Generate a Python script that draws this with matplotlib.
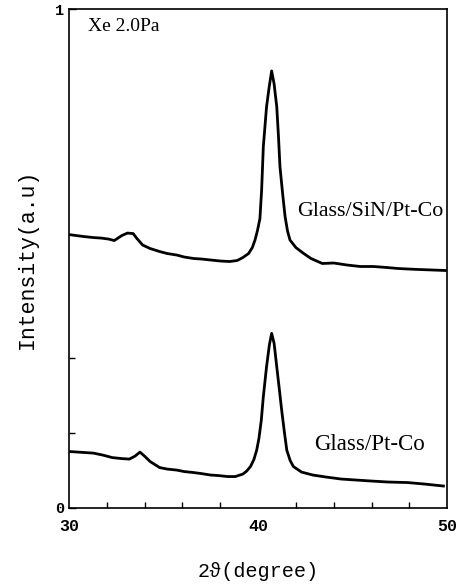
import numpy as np
import matplotlib
matplotlib.use('Agg')
import matplotlib.pyplot as plt
from matplotlib.ticker import MultipleLocator, FixedLocator

# XRD scans, Xe 2.0Pa (normalised intensity)
two_theta_sin = [30.0, 30.4, 30.8, 31.3, 31.7, 32.1, 32.4, 32.6, 32.8, 33.1, 33.4, 33.6, 33.9,
                 34.3, 34.8, 35.2, 35.7, 36.1, 36.6, 37.0, 37.5, 38.0, 38.5, 38.9, 39.2,
                 39.5, 39.7, 39.84, 39.97, 40.1, 40.19, 40.28, 40.45, 40.59, 40.72, 40.85,
                 40.99, 41.08, 41.16, 41.3, 41.43, 41.56, 41.69, 42.0, 42.38, 42.8, 43.4,
                 44.0, 44.7, 45.4, 46.1, 46.8, 47.4, 47.9, 48.5, 49.2, 49.9]
int_sin = [0.548, 0.546, 0.544, 0.542, 0.541, 0.539, 0.536, 0.541, 0.546, 0.551, 0.550, 0.540,
           0.527, 0.520, 0.514, 0.510, 0.507, 0.503, 0.500, 0.499, 0.497, 0.495, 0.494, 0.496,
           0.502, 0.510, 0.522, 0.537, 0.556, 0.580, 0.637, 0.724, 0.804, 0.844, 0.876, 0.850,
           0.804, 0.745, 0.684, 0.630, 0.584, 0.555, 0.537, 0.522, 0.511, 0.500, 0.490,
           0.491, 0.487, 0.484, 0.484, 0.482, 0.480, 0.479, 0.478, 0.477, 0.476]

two_theta_pt = [30.1, 30.5, 30.9, 31.3, 31.8, 32.3, 32.8, 33.2, 33.5, 33.76, 34.0, 34.3, 34.8,
                35.2, 35.7, 36.1, 36.6, 37.0, 37.5, 37.9, 38.4, 38.8, 39.2, 39.4, 39.6, 39.78,
                39.93, 40.05, 40.17, 40.28, 40.45, 40.6, 40.72, 40.85, 40.99, 41.12, 41.25,
                41.4, 41.52, 41.7, 41.87, 42.3, 42.9, 43.6, 44.4, 45.2, 46.0, 46.9, 47.9,
                48.8, 49.8]
int_pt = [0.113, 0.112, 0.111, 0.110, 0.106, 0.101, 0.099, 0.098, 0.104, 0.112, 0.104, 0.093,
          0.081, 0.078, 0.076, 0.073, 0.071, 0.069, 0.066, 0.065, 0.063, 0.063, 0.068, 0.074,
          0.083, 0.097, 0.116, 0.140, 0.175, 0.223, 0.283, 0.327, 0.350, 0.330, 0.283,
          0.240, 0.196, 0.150, 0.116, 0.095, 0.083, 0.072, 0.066, 0.062, 0.058, 0.056,
          0.054, 0.052, 0.051, 0.048, 0.044]

mono = ['Liberation Mono', 'DejaVu Sans Mono']
serif = ['Liberation Serif', 'DejaVu Serif']

fig = plt.figure(figsize=(4.62, 5.87), dpi=100)
ax = fig.add_axes([0.149, 0.1346, 0.819, 0.850])

ax.plot(two_theta_sin, int_sin, color='black', lw=2.0)
ax.plot(two_theta_pt, int_pt, color='black', lw=2.0)

ax.set_xlim(30, 50)
ax.set_ylim(0, 1)
ax.xaxis.set_major_locator(FixedLocator([30, 40, 50]))
ax.xaxis.set_minor_locator(MultipleLocator(2))
ax.yaxis.set_major_locator(FixedLocator([0, 1]))
ax.yaxis.set_minor_locator(FixedLocator([0.15, 0.30]))
ax.tick_params(which='both', direction='in', top=False, right=False)
ax.tick_params(which='major', length=5, width=1)
ax.tick_params(which='minor', length=4, width=1)
ax.tick_params(axis='x', which='major', length=0, pad=8)
ax.set_xticklabels(['30', '40', '50'], family=mono, fontsize=12, fontweight='bold')
ax.set_yticklabels(['0', '1'], family=mono, fontsize=11, fontweight='bold')
for s in ax.spines.values():
    s.set_linewidth(1.2)

ax.set_xlabel('2\u03d1(degree)', family=mono, fontsize=14.5, labelpad=20)
ax.set_ylabel('Intensity(a.u)', family=mono, fontsize=15.5, labelpad=12)

ax.text(31.0, 0.965, 'Xe 2.0Pa', family=serif, fontsize=14, va='center')
ax.text(49.8, 0.595, 'Glass/SiN/Pt-Co', family=serif, fontsize=15.8, va='center', ha='right')
ax.text(48.8, 0.128, 'Glass/Pt-Co', family=serif, fontsize=16.5, va='center', ha='right')

fig.savefig('out.png', dpi=100)
